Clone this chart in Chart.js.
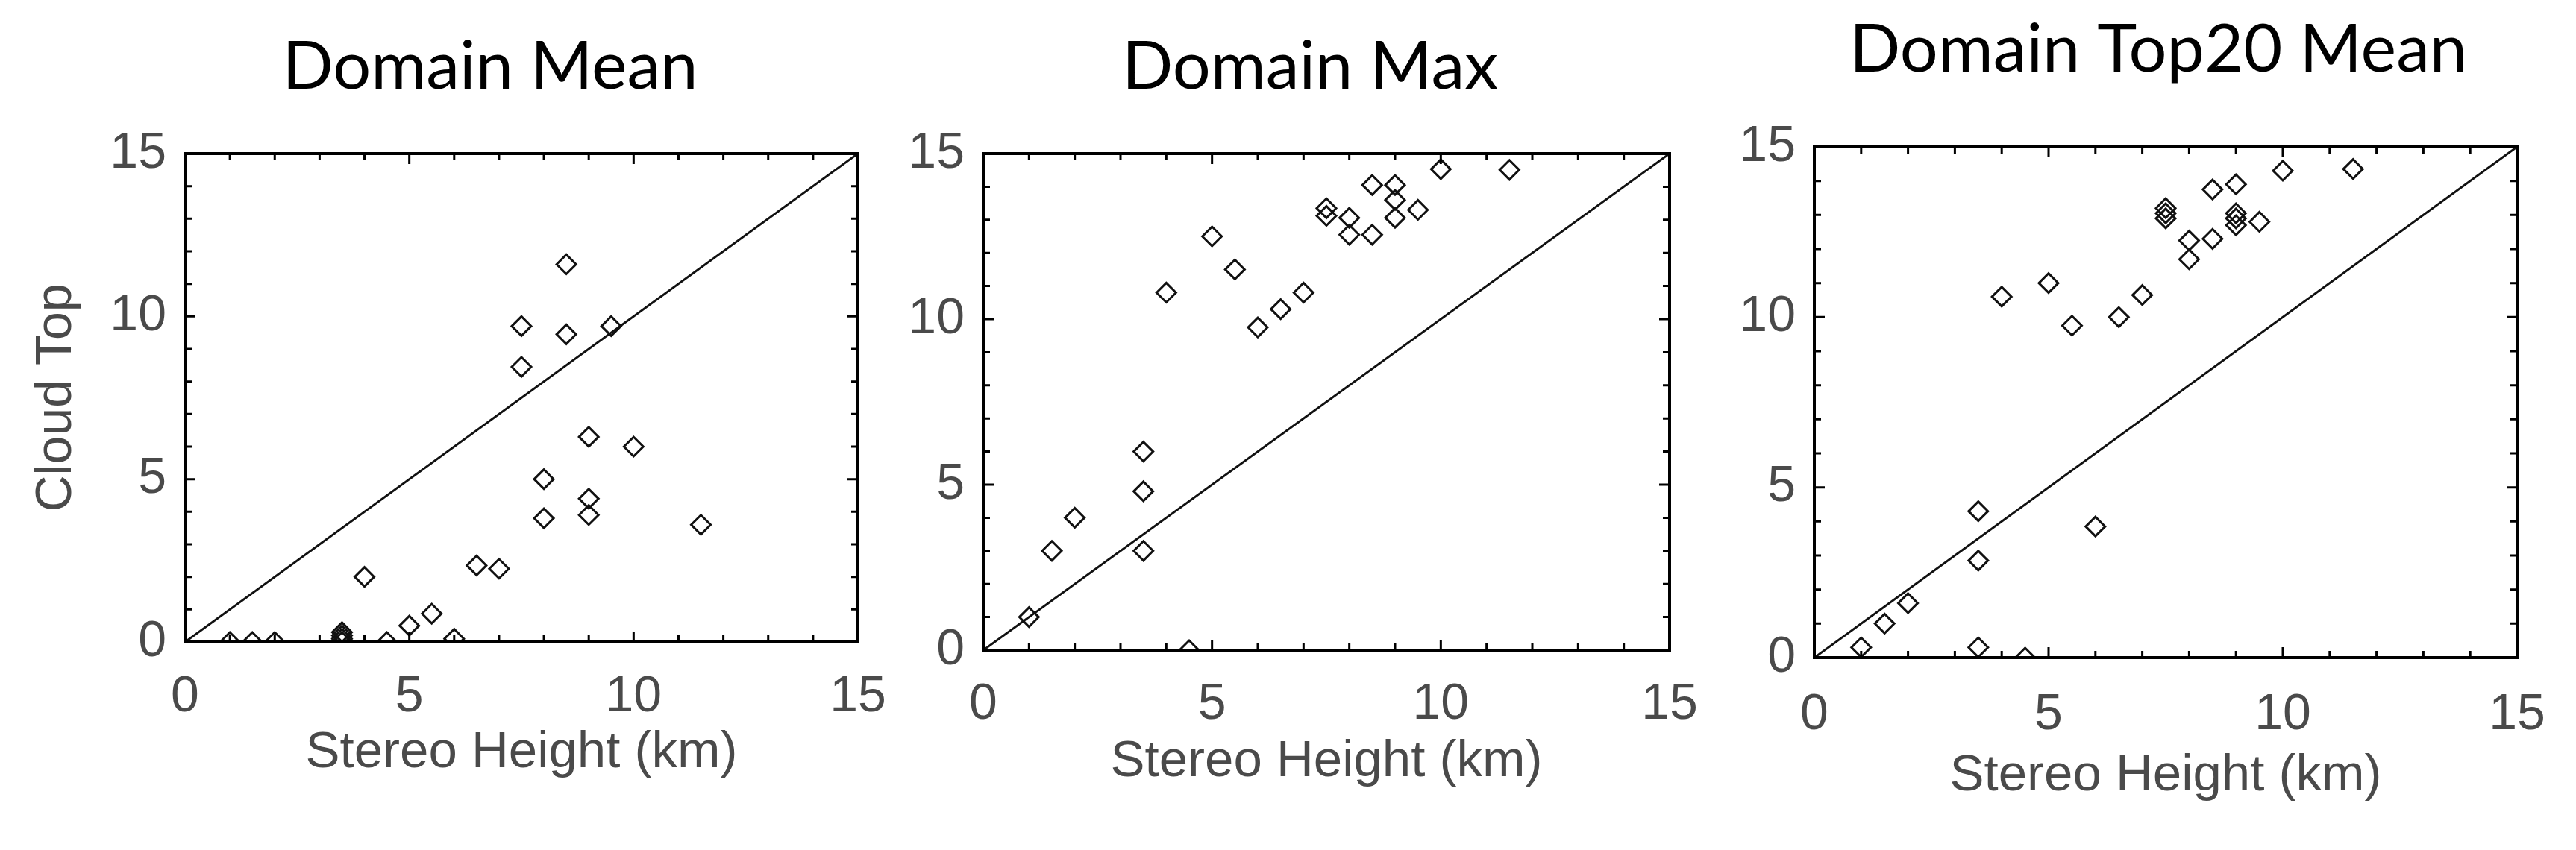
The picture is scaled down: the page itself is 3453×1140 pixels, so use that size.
<!DOCTYPE html>
<html>
<head>
<meta charset="utf-8">
<title>Stereo Height vs Cloud Top</title>
<script src="https://cdn.jsdelivr.net/npm/chart.js@4.4.1/dist/chart.umd.min.js"></script>
<style>
  html, body { margin: 0; padding: 0; background: #fff; overflow: hidden; }
  #page { position: relative; width: 3453px; height: 1140px; }
  #page canvas { position: absolute; top: 0; }
</style>
</head>
<body>
<div id="page">
  <canvas id="c1" width="1314" height="1140" style="left:0px"></canvas>
  <canvas id="c2" width="1132" height="1140" style="left:1190px"></canvas>
  <canvas id="c3" width="1146" height="1140" style="left:2320px"></canvas>
</div>
<script>
// Values (km)
const panelTitles = ['Domain Mean', 'Domain Max', 'Domain Top20 Mean'];
const xAxisTitle = 'Stereo Height (km)';
const yAxisTitle = 'Cloud Top';

const meanX = [1, 1.5, 2, 3.5, 3.5, 3.5, 3.5, 4, 4.5, 5, 5.5, 6, 6.5, 7, 7.5, 7.5, 8, 8, 8.5, 8.5, 9, 9, 9, 9.5, 10, 11.5];
const meanY = [0, 0, 0, 0, 0.1, 0.2, 0.3, 2.0, 0, 0.5, 0.87, 0.1, 2.35, 2.25, 9.7, 8.45, 5.0, 3.8, 11.6, 9.45, 6.3, 4.4, 3.9, 9.7, 6.0, 3.6];

const maxX = [1, 1.5, 2, 3.5, 3.5, 3.5, 4, 4.5, 5, 5.5, 6, 6.5, 7, 7.5, 7.5, 8, 8, 8.5, 8.5, 9, 9, 9, 9.5, 10, 11.5];
const maxY = [1.0, 3.0, 4.0, 6.0, 4.8, 3.0, 10.8, 0, 12.5, 11.5, 9.75, 10.3, 10.8, 13.35, 13.12, 13.06, 12.55, 14.05, 12.55, 14.05, 13.6, 13.06, 13.3, 14.53, 14.51];

const top20X = [1, 1.5, 2, 3.5, 3.5, 3.5, 4, 4.5, 5, 5.5, 6, 6.5, 7, 7.5, 7.5, 7.5, 8, 8, 8.5, 8.5, 9, 9, 9, 9, 9.5, 10, 11.5];
const top20Y = [0.3, 1.0, 1.6, 4.3, 2.85, 0.3, 10.6, 0, 11.0, 9.75, 3.85, 10.0, 10.65, 13.2, 13.05, 12.9, 12.25, 11.7, 13.75, 12.3, 13.9, 13.05, 12.9, 12.7, 12.8, 14.3, 14.35];

const oneToOne = [0, 15];
const majorTicks = [0, 5, 10, 15];
const minorTicks = [1, 2, 3, 4, 6, 7, 8, 9, 11, 12, 13, 14];

Chart.defaults.font.family = '"Liberation Sans", Arial, sans-serif';

// box round the plot with IDL-style inward ticks on all four sides
const idlFrame = {
  id: 'idlFrame',
  afterDraw(chart) {
    const { ctx, chartArea: a, scales: { x, y } } = chart;
    ctx.save();
    ctx.strokeStyle = '#000';
    ctx.lineWidth = 3;
    ctx.beginPath();
    const ticks = majorTicks.map(v => [v, 14]).concat(minorTicks.map(v => [v, 9]));
    ticks.forEach(([v, len]) => {
      const px = x.getPixelForValue(v);
      const py = y.getPixelForValue(v);
      ctx.moveTo(px, a.bottom); ctx.lineTo(px, a.bottom - len);
      ctx.moveTo(px, a.top); ctx.lineTo(px, a.top + len);
      ctx.moveTo(a.left, py); ctx.lineTo(a.left + len, py);
      ctx.moveTo(a.right, py); ctx.lineTo(a.right - len, py);
    });
    ctx.stroke();
    ctx.lineWidth = 4;
    ctx.strokeRect(a.left, a.top, a.right - a.left, a.bottom - a.top);
    ctx.restore();
  }
};

const panels = [
  { id: 'c1', xs: meanX, ys: meanY, titleTop: 45, titleBottom: 71, yWidth: 248, rightWidth: 164, xHeight: 279, tickPad: 33, xTitlePad: 89, yTitle: true },
  { id: 'c2', xs: maxX, ys: maxY, titleTop: 45, titleBottom: 71, yWidth: 128, rightWidth: 84, xHeight: 268, tickPad: 32, xTitlePad: 77, yTitle: false },
  { id: 'c3', xs: top20X, ys: top20Y, titleTop: 22, titleBottom: 85, yWidth: 112, rightWidth: 92, xHeight: 258, tickPad: 36, xTitlePad: 58, yTitle: false }
];

const labelColor = '#4a4a4a';

panels.forEach((p, i) => {
  const points = p.xs.map((x, k) => ({ x: x, y: p.ys[k] }));
  new Chart(document.getElementById(p.id), {
    type: 'scatter',
    data: {
      datasets: [
        {
          data: oneToOne.map(v => ({ x: v, y: v })),
          showLine: true,
          borderColor: '#111',
          borderWidth: 3,
          pointRadius: 0,
          clip: 0
        },
        {
          data: points,
          pointStyle: 'rectRot',
          pointRadius: 13,
          pointBorderWidth: 3,
          pointBorderColor: '#111',
          pointBackgroundColor: 'rgba(0,0,0,0)',
          clip: 0
        }
      ]
    },
    options: {
      responsive: false,
      animation: false,
      events: [],
      layout: { padding: 0 },
      plugins: {
        legend: { display: false },
        tooltip: { enabled: false },
        title: {
          display: true,
          text: panelTitles[i],
          color: '#000',
          font: { family: 'Lato, "Noto Sans", sans-serif', size: 90, weight: 'normal', lineHeight: 1 },
          padding: { top: p.titleTop, bottom: p.titleBottom }
        }
      },
      scales: {
        x: {
          type: 'linear',
          min: 0, max: 15,
          grid: { display: false, drawTicks: false },
          border: { display: false },
          ticks: { stepSize: 5, color: labelColor, font: { size: 68 }, padding: p.tickPad, maxRotation: 0 },
          title: { display: true, text: xAxisTitle, color: labelColor, font: { size: 69 }, padding: { top: 0, bottom: p.xTitlePad } },
          afterFit: s => { s.height = p.xHeight; }
        },
        y: {
          type: 'linear',
          min: 0, max: 15,
          grid: { display: false, drawTicks: false },
          border: { display: false },
          ticks: { stepSize: 5, color: labelColor, font: { size: 68 }, padding: 25 },
          title: { display: p.yTitle, text: yAxisTitle, color: labelColor, font: { size: 68 }, padding: { top: 35, bottom: 0 } },
          afterFit: s => { s.width = p.yWidth; }
        },
        yr: {
          type: 'linear',
          position: 'right',
          min: 0, max: 15,
          grid: { display: false, drawTicks: false },
          border: { display: false },
          ticks: { display: false },
          afterFit: s => { s.width = p.rightWidth; }
        }
      }
    },
    plugins: [idlFrame]
  });
});
</script>
</body>
</html>
